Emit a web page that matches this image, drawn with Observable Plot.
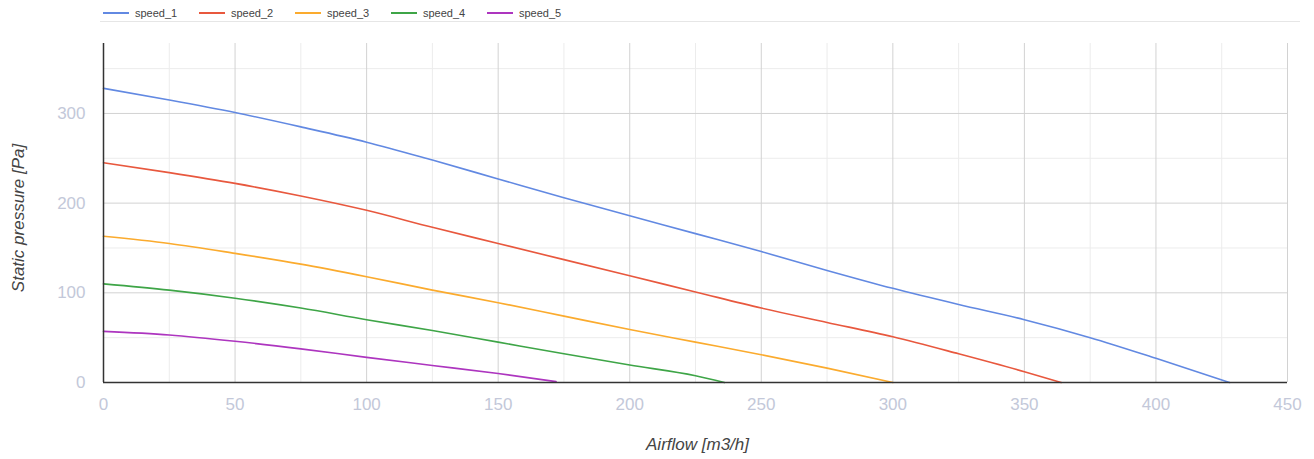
<!DOCTYPE html>
<html>
<head>
<meta charset="utf-8">
<script src="https://cdn.jsdelivr.net/npm/d3@7"></script>
<script src="https://cdn.jsdelivr.net/npm/@observablehq/plot@0.6"></script>
<style>
  body { margin: 0; background: #fff; font-family: "Liberation Sans", Arial, sans-serif; }
  #legend { height: 21px; width: 1200px; margin-left: 100px; border-bottom: 1px solid #e6e6e6; position: relative; }
  .item { position: absolute; top: 7px; font-size: 11px; color: #444; display: flex; align-items: center; }
  .swatch { display: inline-block; width: 26px; height: 2px; margin-right: 6px; }
  #chart svg { display: block; }
</style>
</head>
<body>
<div id="legend"></div>
<div id="chart"></div>
<script>
const seriesNames = ["speed_1", "speed_2", "speed_3", "speed_4", "speed_5"];
const seriesColors = ["#6289e2", "#e8583e", "#fbab2e", "#3ea547", "#ad35bf"];

const airflow_1  = [0, 25, 50, 75, 100, 125, 150, 175, 200, 225, 250, 275, 300, 325, 350, 375, 400, 428];
const pressure_1 = [328, 315, 301, 285, 268, 248, 227, 206, 186, 166, 146, 125, 105, 87, 70, 50, 27, 0];

const airflow_2  = [0, 25, 50, 75, 100, 125, 150, 175, 200, 225, 250, 275, 300, 325, 350, 364];
const pressure_2 = [245, 234, 222, 208, 192, 173, 155, 137, 119, 101, 83, 67, 51, 32, 12, 0];

const airflow_3  = [0, 25, 50, 75, 100, 125, 150, 175, 200, 225, 250, 275, 300];
const pressure_3 = [163, 155, 144, 132, 118, 103, 89, 74, 59, 45, 31, 16, 0];

const airflow_4  = [0, 25, 50, 75, 100, 125, 150, 175, 200, 225, 236];
const pressure_4 = [110, 103, 94, 83, 70, 58, 45, 32, 19.5, 7.5, 0];

const airflow_5  = [0, 25, 50, 75, 100, 125, 150, 172];
const pressure_5 = [57, 53, 46, 37.5, 28, 19, 10, 1];

const xMajorTicks = [0, 50, 100, 150, 200, 250, 300, 350, 400, 450];
const xMinorTicks = [25, 75, 125, 175, 225, 275, 325, 375, 425];
const yMajorTicks = [0, 100, 200, 300];
const yMinorTicks = [50, 150, 250, 350];

const xLabel = "Airflow [m3/h]";
const yLabel = "Static pressure [Pa]";

const airflows = [airflow_1, airflow_2, airflow_3, airflow_4, airflow_5];
const pressures = [pressure_1, pressure_2, pressure_3, pressure_4, pressure_5];
const rows = [];
seriesNames.forEach((name, i) => {
  airflows[i].forEach((a, j) => rows.push({series: name, airflow: a, pressure: pressures[i][j]}));
});

// legend
const legend = document.getElementById("legend");
seriesNames.forEach((name, i) => {
  const it = document.createElement("div");
  it.className = "item";
  it.style.left = (3 + i * 96) + "px";
  it.innerHTML = `<span class="swatch" style="background:${seriesColors[i]}"></span><span>${name}</span>`;
  legend.appendChild(it);
});

const tickFill = "#c3c8d9";
const chart = Plot.plot({
  width: 1314,
  height: 437,
  marginLeft: 103,
  marginRight: 27,
  marginTop: 21,
  marginBottom: 77,
  style: {fontFamily: "'Liberation Sans', Arial, sans-serif", background: "#fff"},
  x: {domain: [0, 450], label: null},
  y: {domain: [0, 378], label: null},
  color: {domain: seriesNames, range: seriesColors},
  marks: [
    Plot.ruleX(xMinorTicks, {stroke: "#ececec", strokeWidth: 1}),
    Plot.ruleY(yMinorTicks, {stroke: "#ececec", strokeWidth: 1}),
    Plot.ruleX(xMajorTicks, {stroke: "#d2d2d2", strokeWidth: 1}),
    Plot.ruleY(yMajorTicks, {stroke: "#d2d2d2", strokeWidth: 1}),
    Plot.line(rows, {x: "airflow", y: "pressure", z: "series", stroke: "series", strokeWidth: 1.6, curve: "monotone-x"}),
    Plot.ruleX([0], {stroke: "#333", strokeWidth: 1.5}),
    Plot.ruleY([0], {stroke: "#333", strokeWidth: 1.5}),
    Plot.axisX(xMajorTicks, {tickSize: 0, tickPadding: 15, fontSize: 17, fill: tickFill, label: null}),
    Plot.axisY(yMajorTicks, {tickSize: 0, tickPadding: 18, fontSize: 17, fill: tickFill, label: null}),
    Plot.text([xLabel], {frameAnchor: "bottom", textAnchor: "middle", dx: 2, dy: 62, fontSize: 17, fontStyle: "italic", fill: "#444", lineAnchor: "middle"}),
    Plot.text([yLabel], {frameAnchor: "left", textAnchor: "middle", dx: -85, dy: 5, rotate: -90, fontSize: 17, fontStyle: "italic", fill: "#444", lineAnchor: "middle"})
  ]
});
document.getElementById("chart").appendChild(chart);
</script>
</body>
</html>
